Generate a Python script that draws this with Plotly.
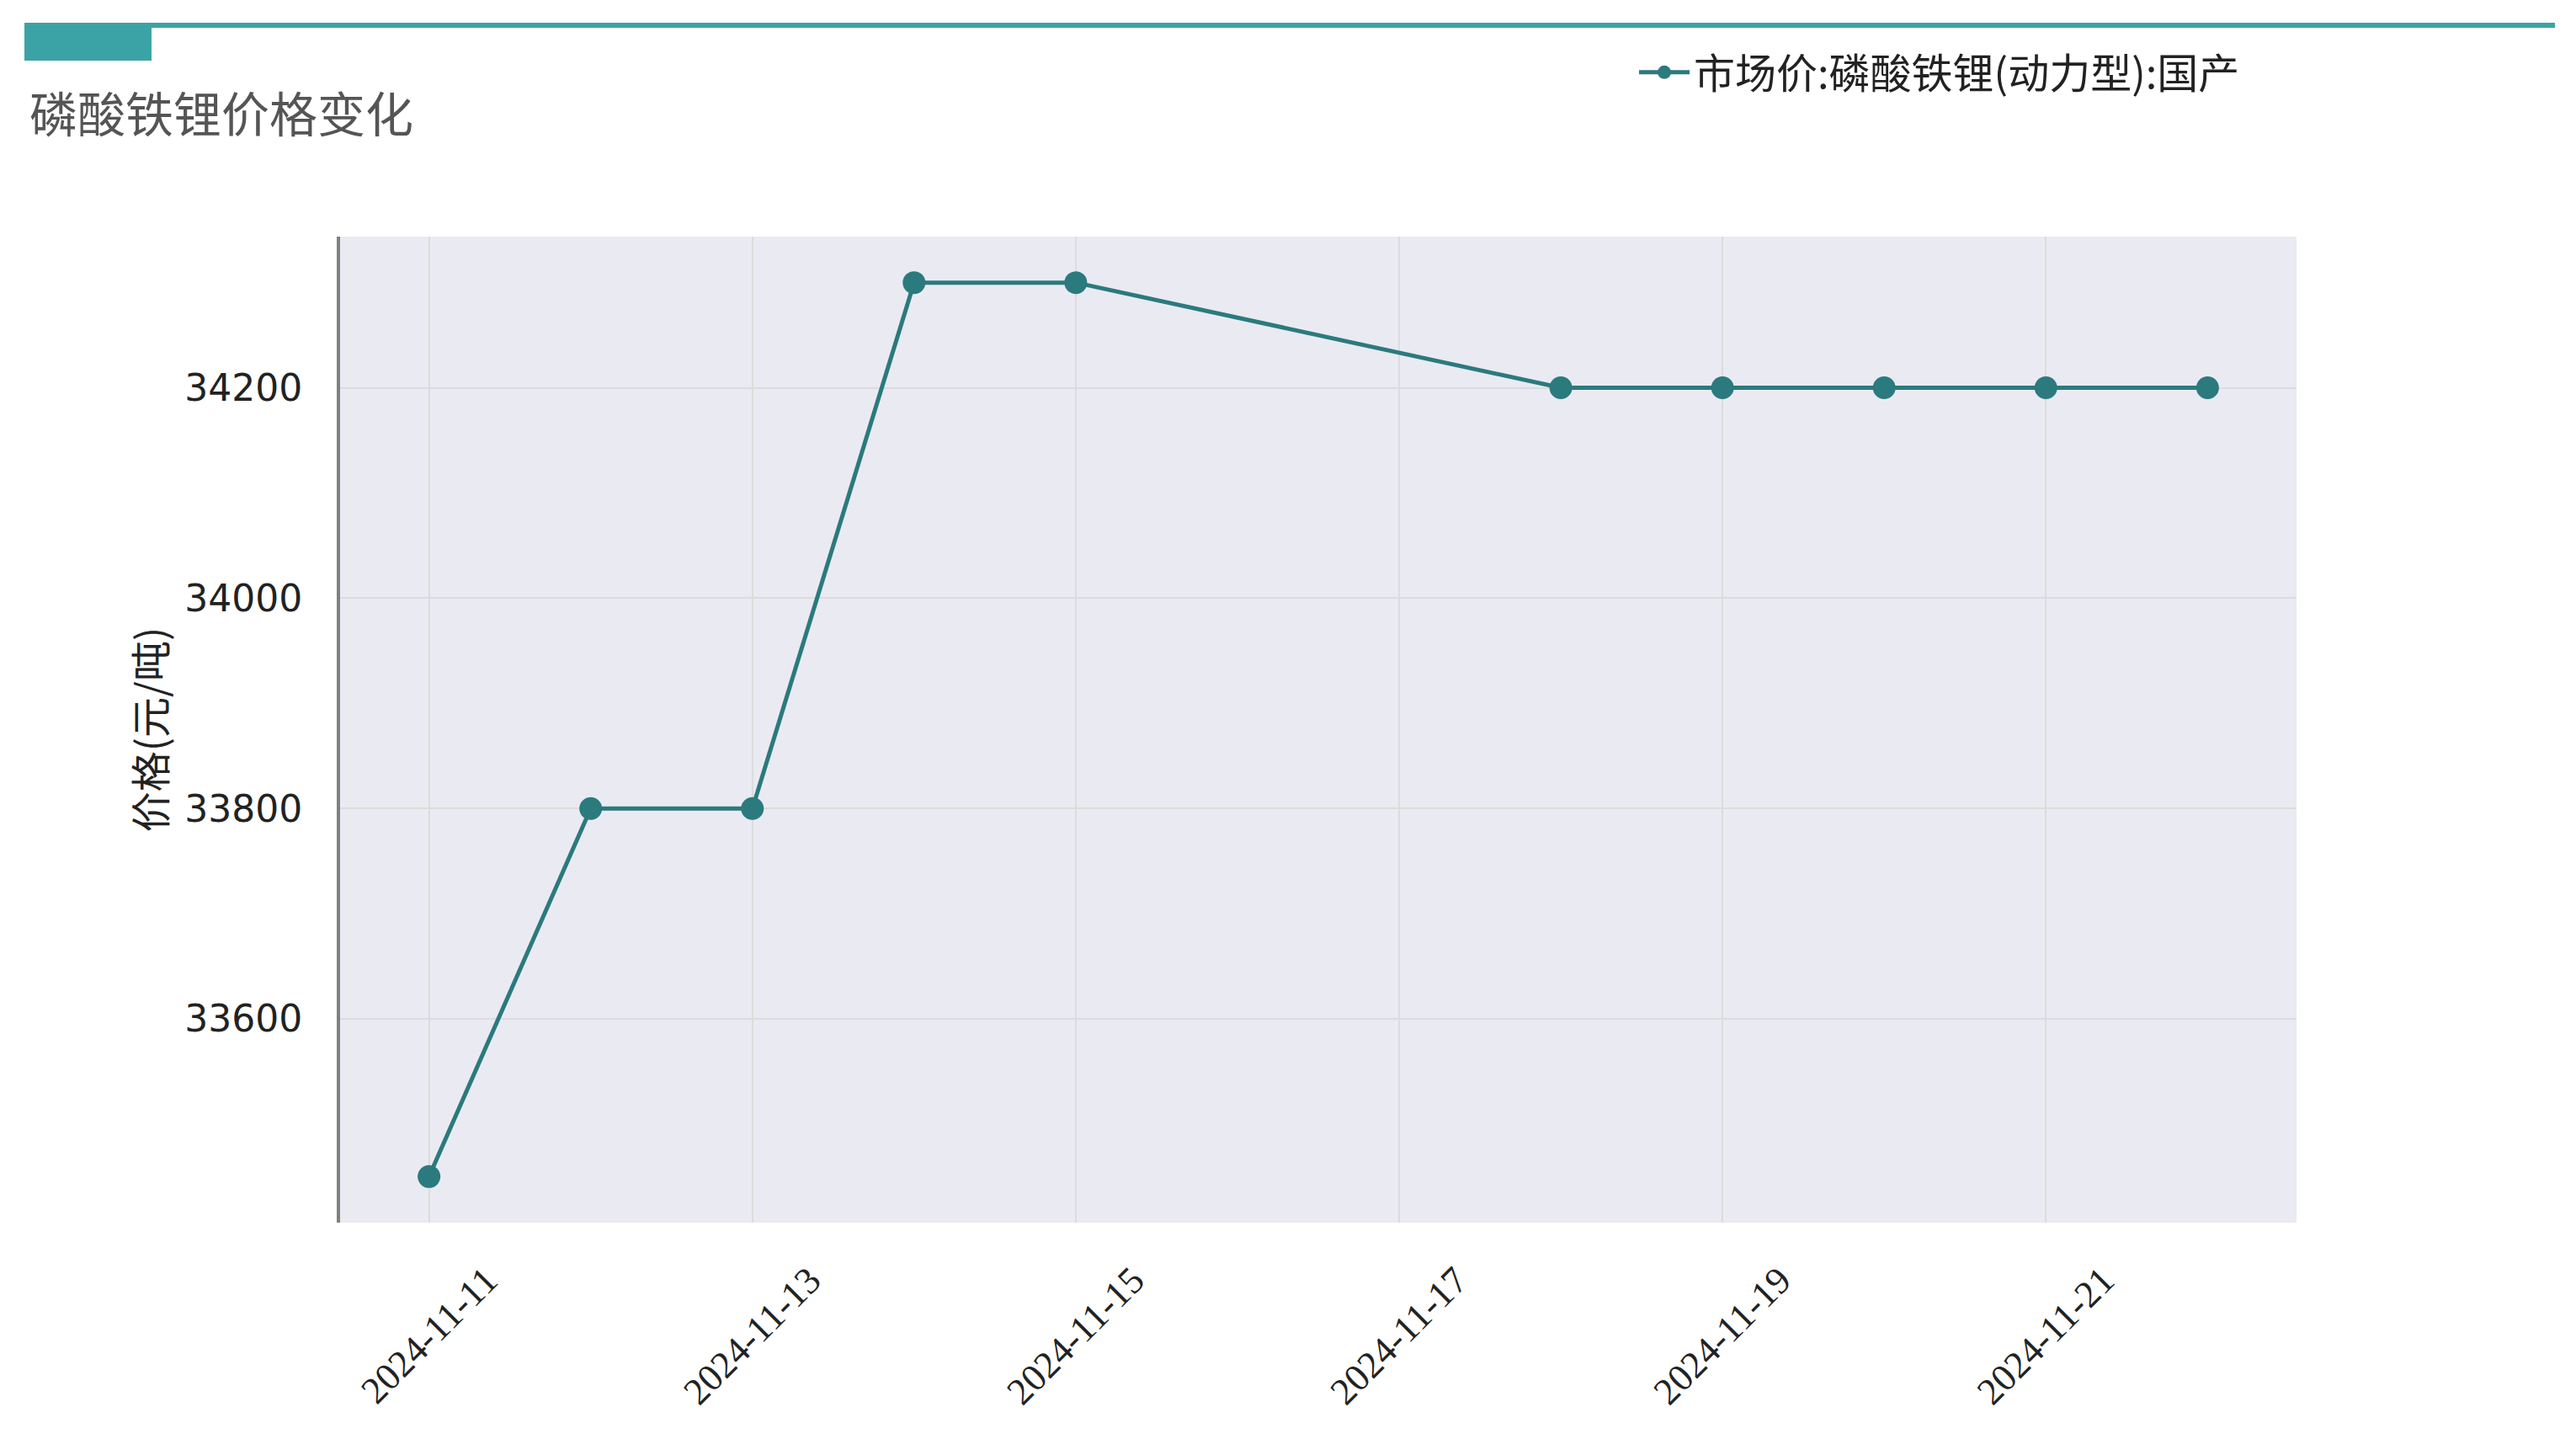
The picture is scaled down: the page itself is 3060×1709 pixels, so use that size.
import plotly.graph_objects as go

dates = ["2024-11-11", "2024-11-12", "2024-11-13", "2024-11-14", "2024-11-15",
         "2024-11-18", "2024-11-19", "2024-11-20", "2024-11-21", "2024-11-22"]
prices = [33450, 33800, 33800, 34300, 34300, 34200, 34200, 34200, 34200, 34200]
series_name = "市场价:磷酸铁锂(动力型):国产"
title_text = "磷酸铁锂价格变化"
y_title = "价格(元/吨)"
x_ticks = ["2024-11-11", "2024-11-13", "2024-11-15", "2024-11-17", "2024-11-19", "2024-11-21"]
y_ticks = [33600, 33800, 34000, 34200]

W, H = 3060, 1709
L, R, T, B = 404, 2728, 281, 1452
PW, PH = R - L, B - T

def px(x):
    return (x - L) / PW

def py(y):
    return (B - y) / PH

CJK = "Noto Sans CJK SC"
line_color = "#2B7A7D"
bar_color = "#3BA3A5"

fig = go.Figure()
fig.add_trace(go.Scatter(
    x=dates, y=prices, mode="lines+markers", name=series_name,
    line=dict(color=line_color, width=5),
    marker=dict(color=line_color, size=27),
))

fig.update_layout(
    width=W, height=H,
    margin=dict(l=L, r=W - R, t=T, b=H - B),
    paper_bgcolor="white", plot_bgcolor="#EAEAF2",
    title=dict(text=title_text, x=35 / W, xanchor="left", xref="container",
               y=1 - 137 / H, yanchor="middle", yref="container",
               font=dict(family=CJK, size=57, color="#555555")),
    showlegend=True,
    legend=dict(x=px(1942), y=py(86), xanchor="left", yanchor="middle",
                font=dict(family=CJK, size=49, color="#222222"),
                bgcolor="rgba(0,0,0,0)", itemwidth=60),
    shapes=[
        dict(type="rect", xref="paper", yref="paper",
             x0=px(29), x1=px(3035), y0=py(33), y1=py(27),
             fillcolor=bar_color, line=dict(width=0)),
        dict(type="rect", xref="paper", yref="paper",
             x0=px(29), x1=px(180), y0=py(72), y1=py(27),
             fillcolor=bar_color, line=dict(width=0)),
    ],
)

fig.update_xaxes(
    type="date",
    range=["2024-11-10 10:48", "2024-11-22 13:12"],
    tickvals=x_ticks, ticktext=x_ticks,
    tickangle=-45,
    tickfont=dict(family="Liberation Serif", size=45, color="#222222"),
    ticklabelshift=68, ticklabelstandoff=32,
    showgrid=True, gridcolor="#DCDCDC", gridwidth=2,
    showline=False, zeroline=False, ticks="",
)

fig.update_yaxes(
    range=[33406.25, 34343.75],
    tickvals=y_ticks, tickformat="d",
    tickfont=dict(family="DejaVu Sans", size=44, color="#222222"),
    ticklabelstandoff=32,
    showgrid=True, gridcolor="#DCDCDC", gridwidth=2,
    showline=True, linecolor="#808080", linewidth=4,
    zeroline=False, ticks="",
    title=dict(text=y_title, standoff=7,
               font=dict(family=CJK, size=48, color="#222222")),
)

fig.write_html("out.html", config={"displayModeBar": False},
               post_script="document.body.style.margin='0px';")
